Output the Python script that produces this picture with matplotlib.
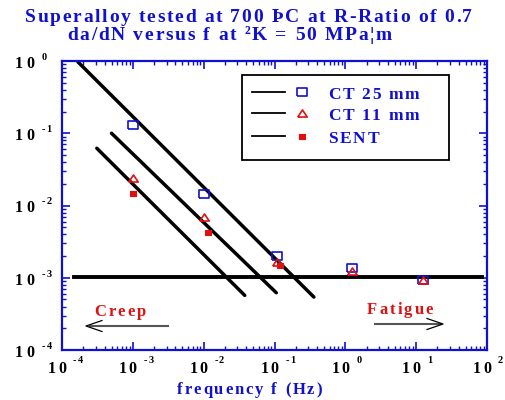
import matplotlib
matplotlib.use("Agg")
import matplotlib.pyplot as plt
from matplotlib.font_manager import FontProperties, findfont, get_font
from matplotlib.patches import Rectangle

# ---------------- data ----------------
freq_ct25 = [1e-3, 1e-2, 0.11, 1.26, 12.6]
dadn_ct25 = [0.13, 0.0145, 0.0020, 0.00137, 0.00093]
freq_ct11 = [1e-3, 1e-2, 0.11, 1.26, 12.6]
dadn_ct11 = [0.024, 0.0069, 0.00166, 0.00124, 0.00093]
freq_sent = [1e-3, 0.0115, 0.12]
dadn_sent = [0.0149, 0.0043, 0.0015]

fit_ct25_f = [1.68e-4, 0.36]
fit_ct25_y = [0.97, 5.4e-4]
fit_ct11_f = [5.0e-4, 0.106]
fit_ct11_y = [0.10, 6.2e-4]
fit_sent_f = [3.1e-4, 0.038]
fit_sent_y = [0.062, 5.7e-4]
fatigue_f = [1.48e-4, 85]
fatigue_y = [1.04e-3, 1.04e-3]

legend_labels = ["CT 25 mm", "CT 11 mm", "SENT"]
title1 = "Superalloy tested at 700 \u00deC at R-Ratio of 0.7"
title2 = "da/dN versus f at \u00b2K = 50 MPa\u00a6m"
xlabel = "frequency f (Hz)"
x_exps = [-4, -3, -2, -1, 0, 1, 2]
y_exps = [0, -1, -2, -3, -4]

W, H = 505, 400
BLUE = "#1010d0"
RED = "#e01010"

fig = plt.figure(figsize=(W / 100, H / 100), dpi=100)
L, T, R, B = 62, 61, 487, 350
ax = fig.add_axes([L / W, 1 - B / H, (R - L) / W, (B - T) / H])
ax.set_xscale("log")
ax.set_yscale("log")
ax.set_xlim(1e-4, 1e2)
ax.set_ylim(1e-4, 1)
for s in ax.spines.values():
    s.set_color(BLUE)
    s.set_linewidth(1.6)
ax.tick_params(which="both", direction="in", top=True, right=True, color=BLUE,
               labelbottom=False, labelleft=False)
ax.tick_params(which="major", length=6, width=1.2)
ax.tick_params(which="minor", length=3, width=1.0)

# fit lines
for f, y in [(fit_ct25_f, fit_ct25_y), (fit_ct11_f, fit_ct11_y), (fit_sent_f, fit_sent_y)]:
    ax.plot(f, y, color="black", lw=2.5, solid_capstyle="round", zorder=2)
ax.plot(fatigue_f, fatigue_y, color="black", lw=2.8, zorder=2)

rect_marker = [(-1, -0.72), (1, -0.72), (1, 0.72), (-1, 0.72), (-1, -0.72)]
tri_marker = [(-1, -0.75), (1, -0.75), (0, 0.75), (-1, -0.75)]
ax.plot(freq_ct25, dadn_ct25, ls="none", marker=rect_marker, ms=7.2, mfc="none",
        mec=BLUE, mew=1.2, zorder=3)
ax.plot(freq_ct11, dadn_ct11, ls="none", marker=tri_marker, ms=6.8, mfc="none",
        mec=RED, mew=1.2, zorder=4)
ax.plot(freq_sent, dadn_sent, ls="none", marker=rect_marker, ms=5.0, mfc=RED,
        mec=RED, mew=0.8, zorder=5)

# ---------------- text helpers ----------------
fp = FontProperties(family="Liberation Serif", weight="bold")
fontfile = findfont(fp)


def advances(s, size):
    font = get_font(fontfile)
    font.set_size(size, 100)
    return [font.load_char(ord(c)).linearHoriAdvance / 65536.0 for c in s]


def spaced(s, x, y, size, color, width=None, track=0.0, ha="left"):
    adv = advances(s, size)
    nat = sum(adv)
    if width is not None and len(s) > 1:
        track = (width - nat) / (len(s) - 1)
    total = nat + track * (len(s) - 1)
    if ha == "center":
        x = x - total / 2
    pos = x
    for c, a in zip(s, adv):
        if c != " ":
            fig.text(pos / W, 1 - y / H, c, fontproperties=fp, fontsize=size,
                     color=color, ha="left", va="baseline")
        pos += a + track


# title
spaced(title1, 25, 22.5, 14, BLUE, width=447)
spaced(title2, 67, 39.5, 14, BLUE, width=325)

# axis label
spaced(xlabel, 177, 394, 12, BLUE, width=145)

# tick labels
xpix = lambda e: L + (e + 4) * (R - L) / 6.0
ypix = lambda e: T + (0 - e) * (B - T) / 4.0
for e in x_exps:
    X = xpix(e)
    spaced("10", X - 14, 373, 11.5, "black", width=18)
    spaced(str(e), X + 11, 363, 7.5, "black", track=1.0)
for e in y_exps:
    Y = ypix(e)
    spaced("10", 15, Y + 7, 11.5, "black", width=19)
    spaced(str(e), 42, Y - 1, 7.5, "black", track=1.0)

# legend box
fig.patches.append(Rectangle((242 / W, 1 - 160 / H), (449 - 242) / W, (160 - 75) / H,
                             transform=fig.transFigure, fill=False, ec="black",
                             lw=1.3, zorder=6))
rows = [92, 113, 136]
lx0, lx1, mx, tx = 252, 285, 302, 328
for i, yy in enumerate(rows):
    fig.add_artist(plt.Line2D([lx0 / W, lx1 / W], [1 - yy / H, 1 - yy / H],
                              transform=fig.transFigure, color="black", lw=1.3))
mk = [dict(marker=rect_marker, ms=7.2, mfc="none", mec=BLUE, mew=1.2),
      dict(marker=tri_marker, ms=6.8, mfc="none", mec=RED, mew=1.2),
      dict(marker=rect_marker, ms=5.0, mfc=RED, mec=RED, mew=0.8)]
for yy, m in zip(rows, mk):
    fig.add_artist(plt.Line2D([mx / W], [1 - yy / H], transform=fig.transFigure,
                              ls="none", **m))
spaced(legend_labels[0], tx, 99, 12.5, BLUE, width=91)
spaced(legend_labels[1], tx, 120.5, 12.5, BLUE, width=91)
spaced(legend_labels[2], tx, 143, 12.5, BLUE, width=51)

# creep / fatigue annotations
spaced("Creep", 94, 316, 12, RED, width=52)
spaced("Fatigue", 367, 314, 12, RED, width=66)
fig.add_artist(plt.Line2D([90 / W, 168 / W], [1 - 326 / H, 1 - 326 / H],
                          transform=fig.transFigure, color="#555555", lw=1.5))
fig.add_artist(plt.Line2D([102 / W, 86 / W, 102 / W],
                          [1 - 320.5 / H, 1 - 326 / H, 1 - 331.5 / H],
                          transform=fig.transFigure, color="black", lw=0.9))
fig.add_artist(plt.Line2D([375 / W, 440 / W], [1 - 324 / H, 1 - 324 / H],
                          transform=fig.transFigure, color="#555555", lw=1.5))
fig.add_artist(plt.Line2D([427 / W, 443 / W, 427 / W],
                          [1 - 318.5 / H, 1 - 324 / H, 1 - 329.5 / H],
                          transform=fig.transFigure, color="black", lw=0.9))

fig.savefig("out.png", dpi=100)
